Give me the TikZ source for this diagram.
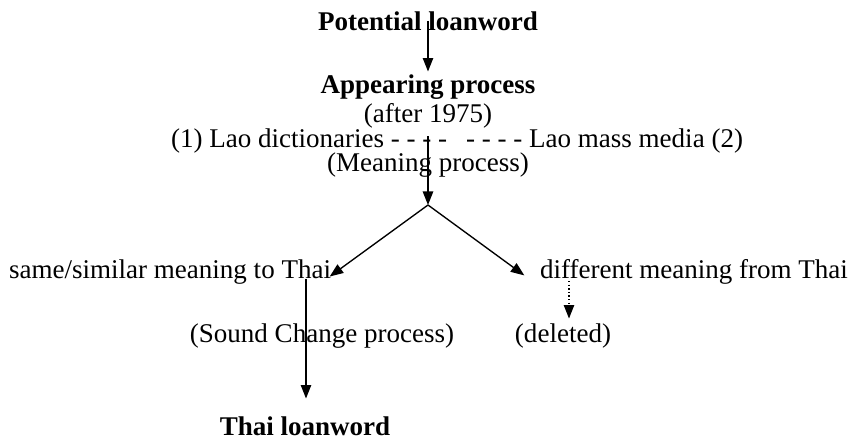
\documentclass[tikz,border=0pt]{standalone}
\usepackage{fontspec}
\setmainfont{Liberation Serif}
\usetikzlibrary{arrows.meta,calc}

\tikzset{
  txt/.style={inner sep=1pt, anchor=base, font=\fontsize{12}{14}\selectfont},
  bold/.style={txt, font=\fontsize{12}{14}\selectfont\bfseries},
  arr/.style={line width=0.6pt, -{Triangle[length=6pt,width=4.6pt]}},
  dotarr/.style={arr, densely dotted}
}

\begin{document}
\begin{tikzpicture}[x=0.444pt, y=-0.444pt]

\useasboundingbox (0,0) rectangle (850,439);

% upper part
\node[bold] (pot) at (428,30) {Potential loanword};
\node[bold] (app) at (428,93) {Appearing process};
\node[txt] (after) at (428,122) {(after 1975)};
\node[txt] (src) at (457,147) {(1) Lao dictionaries - - - - \hspace{0.45em}- - - - Lao mass media (2)};
\node[txt] (mean) at (428,171) {(Meaning process)};
\coordinate (fork) at (428,205);

\draw[arr] (pot.center) -- (app.north);
\draw[arr] ($(after.south)+(0,6)$) -- (fork);

% the two meanings
\node[txt] (same) at (170,278) {same/similar meaning to Thai};
\node[txt] (diff) at (694,278) {different meaning from Thai};

\draw[arr] (fork) -- ($(same.east)+(-4,5)$);
\draw[arr] (fork) -- ($(diff.west)+(-13,4)$);

% lower part
\node[txt] (snd) at (322,342) {(Sound Change process)};
\node[txt] (del) at (563,342) {(deleted)};
\node[bold] (thai) at (305,435) {Thai loanword};

\coordinate (dtop) at ($(diff.base -| del.center)+(6,3)$);
\draw[dotarr] (dtop) -- ($(dtop |- del.north)+(0,-2)$);
\draw[arr] ($(same.base -| thai.center)+(1,1)$) -- ($(thai.north)+(1,-15)$);

\end{tikzpicture}
\end{document}
